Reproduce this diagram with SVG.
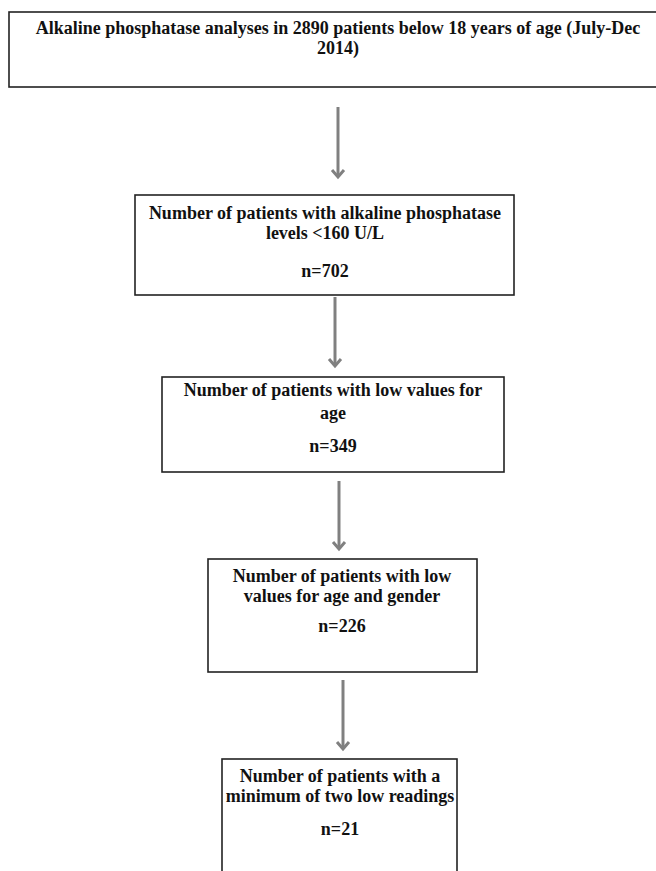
<svg xmlns="http://www.w3.org/2000/svg" width="656" height="871" viewBox="0 0 656 871">
<style>
.box{fill:#fff;stroke:#222;stroke-width:1.6}
.t{font-family:"Liberation Serif","Times New Roman",serif;font-weight:bold;font-size:18px;fill:#111;text-anchor:middle}
.ln{stroke:#808080;stroke-width:3;fill:none}
.hd{stroke:#808080;stroke-width:3;fill:none;stroke-linejoin:miter}
</style>
<rect width="656" height="871" fill="#fff"/>
<g id="node1">
<rect class="box" x="9" y="12" width="660" height="75"/>
<text class="t" x="338" y="34">Alkaline phosphatase analyses in 2890 patients below 18 years of age (July-Dec</text>
<text class="t" x="338" y="54">2014)</text>
</g>
<g id="node2">
<rect class="box" x="135" y="195" width="379" height="100"/>
<text class="t" x="325" y="219">Number of patients with alkaline phosphatase</text>
<text class="t" x="325" y="239">levels &lt;160 U/L</text>
<text class="t" x="325" y="277">n=702</text>
</g>
<g id="node3">
<rect class="box" x="162" y="377" width="342" height="95"/>
<text class="t" x="333" y="396">Number of patients with low values for</text>
<text class="t" x="333" y="419">age</text>
<text class="t" x="333" y="452">n=349</text>
</g>
<g id="node4">
<rect class="box" x="208" y="559" width="269" height="113"/>
<text class="t" x="342" y="582">Number of patients with low</text>
<text class="t" x="342" y="602">values for age and gender</text>
<text class="t" x="342" y="632">n=226</text>
</g>
<g id="node5">
<rect class="box" x="222" y="759" width="235" height="130"/>
<text class="t" x="340" y="782">Number of patients with a</text>
<text class="t" x="340" y="802">minimum of two low readings</text>
<text class="t" x="340" y="835">n=21</text>
</g>
<g id="connectors">
<line class="ln" x1="338" y1="107" x2="338" y2="177"/>
<polyline class="hd" points="332,170 338,177 344,170"/>
<line class="ln" x1="335" y1="297" x2="335" y2="366"/>
<polyline class="hd" points="329,359 335,366 341,359"/>
<line class="ln" x1="339" y1="481" x2="339" y2="549"/>
<polyline class="hd" points="333,542 339,549 345,542"/>
<line class="ln" x1="343" y1="680" x2="343" y2="749"/>
<polyline class="hd" points="337,742 343,749 349,742"/>
</g>
</svg>
